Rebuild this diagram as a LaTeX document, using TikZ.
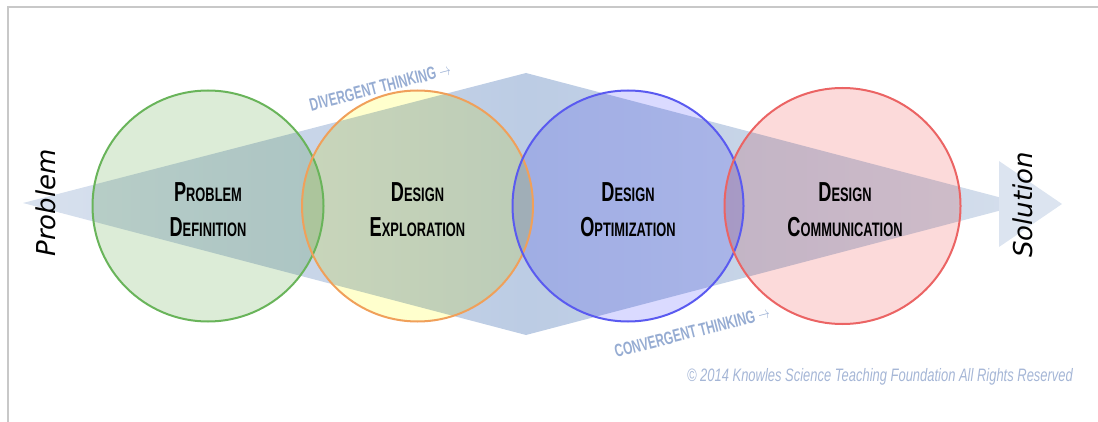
\documentclass[tikz,border=0pt]{standalone}
\usepackage{fontspec}
\setmainfont{Liberation Sans}
\newfontfamily\labfont{Liberation Sans}
\newfontfamily\endfont{DejaVu Sans}
\definecolor{framegray}{RGB}{200,200,200}
\definecolor{diaL}{RGB}{216,225,238}
\definecolor{diaM}{RGB}{188,204,228}
\definecolor{diaR}{RGB}{212,222,236}
\definecolor{arrowfill}{RGB}{220,228,240}
\definecolor{gfill}{RGB}{220,236,215}
\definecolor{ofill}{RGB}{255,255,205}
\definecolor{bfill}{RGB}{218,218,255}
\definecolor{rfill}{RGB}{252,218,218}
\definecolor{gline}{RGB}{105,180,90}
\definecolor{oline}{RGB}{240,160,90}
\definecolor{bline}{RGB}{90,90,240}
\definecolor{rline}{RGB}{235,100,100}
\definecolor{thinkblue}{RGB}{150,172,210}
\definecolor{copyblue}{RGB}{165,182,214}
\newcommand\kcap[2]{{\fontsize{27.5}{35}\selectfont #1}{\fontsize{19.5}{35}\selectfont #2}}
\begin{document}
\begin{tikzpicture}[x=1pt,y=-1pt,
  circlab/.style={font=\labfont\bfseries\fontsize{27}{35}\selectfont, align=center, xscale=0.66, transform shape, inner sep=0pt},
  thinklab/.style={font=\labfont\bfseries\fontsize{18}{18}\selectfont, text=thinkblue, rotate=14.5, xscale=0.66, inner sep=0pt},
  endlab/.style={font=\endfont\itshape\fontsize{26}{26}\selectfont, rotate=90, inner sep=0pt},
  circline/.style={line width=2pt}]
\useasboundingbox (0,0) rectangle (1098,422);
% frame
\draw[framegray, line width=2.5pt] (8,422) -- (8,7) -- (1098,7);
% diamond
\shade[left color=diaL, right color=diaM] (23,203) -- (526,73) -- (526,335) -- cycle;
\shade[left color=diaM, right color=diaR] (526,73) -- (1025,204) -- (526,335) -- cycle;
\fill[arrowfill] (999,161) -- (1062,204) -- (999,247) -- cycle;
% circles
\begin{scope}[blend mode=multiply]
\fill[gfill] (208,206) circle[radius=115.5];
\fill[ofill] (417.5,206) circle[radius=115.5];
\fill[bfill] (628,206) circle[radius=115.5];
\fill[rfill] (842.5,206) circle[radius=118];
\end{scope}
\node[circle, draw=gline, circline, minimum size=231pt, inner sep=0pt] (c1) at (208,206) {};
\node[circle, draw=oline, circline, minimum size=231pt, inner sep=0pt] (c2) at (417.5,206) {};
\node[circle, draw=bline, circline, minimum size=231pt, inner sep=0pt] (c3) at (628,206) {};
\node[circle, draw=rline, circline, minimum size=236pt, inner sep=0pt] (c4) at (842.5,206) {};
% labels
\node[circlab] (t1) at (208,210) {\kcap{P}{ROBLEM}\\\kcap{D}{EFINITION}};
\node[circlab] (t2) at (417.5,210) {\kcap{D}{ESIGN}\\\kcap{E}{XPLORATION}};
\node[circlab] (t3) at (628,210) {\kcap{D}{ESIGN}\\\kcap{O}{PTIMIZATION}};
\node[circlab] (t4) at (845,210) {\kcap{D}{ESIGN}\\\kcap{C}{OMMUNICATION}};
\node[thinklab] (div) at (380,87) {DIVERGENT THINKING $\rightarrow$};
\node[thinklab] (conv) at (692,332) {CONVERGENT THINKING $\rightarrow$};
\node[endlab] (prob) at (46,203) {Problem};
\node[endlab] (sol) at (1023,205) {Solution};
\node[font=\labfont\itshape\fontsize{18}{18}\selectfont, text=copyblue, xscale=0.72, transform shape, inner sep=0pt] (copy) at (880,377) {\textcopyright\ 2014 Knowles Science Teaching Foundation All Rights Reserved};
\end{tikzpicture}
\end{document}
